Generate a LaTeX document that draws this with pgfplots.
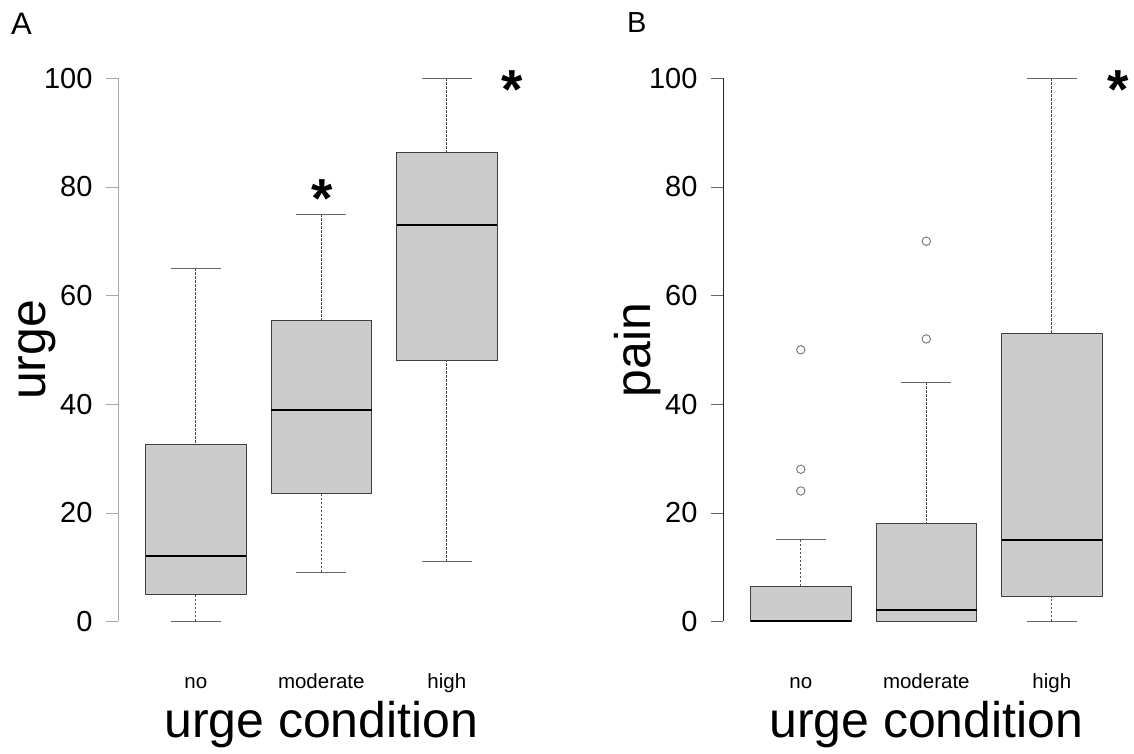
\documentclass[border=0pt]{standalone}
\usepackage{fontspec}
\setmainfont{Liberation Sans}
\usepackage{pgfplots}
\pgfplotsset{compat=1.18}
\usepgfplotslibrary{statistics}
\definecolor{boxgray}{HTML}{CCCCCC}

\tikzset{sigstar/.style={font=\fontsize{55}{55}\selectfont\bfseries, anchor=base, yshift=-26pt, inner sep=0pt}}

\pgfplotsset{
 rpanel/.style={
   anchor=south west,
   scale only axis, width=406.6pt, height=586.4pt,
   xmin=0.38, xmax=3.62, ymin=-4, ymax=104,
   axis line style={draw=none},
   clip=false,
   xtick={1,2,3}, xticklabels={no,moderate,high},
   xtick style={draw=none},
   xticklabel style={font=\fontsize{20.5}{21}\selectfont, anchor=base, yshift=-34pt},
   ytick={0,20,40,60,80,100}, ytick pos=left,
   tick align=outside, major tick length=12pt,
   yticklabel style={font=\fontsize{29}{30}\selectfont, anchor=east, xshift=-10pt},
   /pgf/number format/assume math mode=true,
   xlabel={urge condition},
   xlabel style={font=\fontsize{50}{50}\selectfont, at={(axis description cs:0.5,-0.1604)}, anchor=base},
   ylabel style={font=\fontsize{50}{50}\selectfont, at={(axis description cs:-0.178,0.5)}, anchor=base, rotate=0},
 },
 rbox/.style={
   boxplot/draw direction=y,
   boxplot/box extend=0.8,
   boxplot/whisker extend=0.4,
   boxplot/every box/.style={draw=black!75, fill=boxgray, line width=0.9pt},
   boxplot/every median/.style={draw=black, line width=2pt},
   boxplot/draw/lower whisker/.code={%
     \draw[black!70, dash pattern=on 2.5pt off 1.5pt, line width=0.7pt]
       (boxplot cs:\pgfplotsboxplotvalue{lower whisker}) -- (boxplot cs:\pgfplotsboxplotvalue{lower quartile});
     \draw[black!60, line width=1pt]
       (boxplot whisker cs:\pgfplotsboxplotvalue{lower whisker},0) -- (boxplot whisker cs:\pgfplotsboxplotvalue{lower whisker},1);
   },
   boxplot/draw/upper whisker/.code={%
     \draw[black!70, dash pattern=on 2.5pt off 1.5pt, line width=0.7pt]
       (boxplot cs:\pgfplotsboxplotvalue{upper whisker}) -- (boxplot cs:\pgfplotsboxplotvalue{upper quartile});
     \draw[black!60, line width=1pt]
       (boxplot whisker cs:\pgfplotsboxplotvalue{upper whisker},0) -- (boxplot whisker cs:\pgfplotsboxplotvalue{upper whisker},1);
   },
   mark=o, mark size=4.2pt, mark options={draw=black!55, line width=0.9pt, fill=none},
 },
}

\begin{document}
\begin{tikzpicture}
\useasboundingbox (0,0) rectangle (1134pt,754pt);

% ---------------- Panel A ----------------
\begin{axis}[rpanel, at={(118pt,111pt)}, ylabel={urge},
  ytick style={draw=black!35}]
\draw[black!35, line width=1pt] (axis cs:0.38,0) -- (axis cs:0.38,100);
\addplot[rbox, boxplot prepared={draw position=1, lower whisker=0, lower quartile=5, median=12, upper quartile=32.5, upper whisker=65}] coordinates {};
\addplot[rbox, boxplot prepared={draw position=2, lower whisker=9, lower quartile=23.5, median=39, upper quartile=55.4, upper whisker=75}] coordinates {};
\addplot[rbox, boxplot prepared={draw position=3, lower whisker=11, lower quartile=48, median=73, upper quartile=86.3, upper whisker=100}] coordinates {};
\node[sigstar] at (axis cs:2.01,79.1) {*};
\node[sigstar] at (axis cs:3.52,99.3) {*};
\end{axis}

% ---------------- Panel B ----------------
\begin{axis}[rpanel, at={(723pt,111pt)}, ylabel={pain},
  ytick style={draw=black!60}]
\draw[black!85, line width=1pt] (axis cs:0.38,0) -- (axis cs:0.38,100);
\addplot[rbox, boxplot prepared={draw position=1, lower whisker=0, lower quartile=0, median=0, upper quartile=6.5, upper whisker=15}] coordinates {(0,24) (0,28) (0,50)};
\addplot[rbox, boxplot prepared={draw position=2, lower whisker=0, lower quartile=0, median=2, upper quartile=18, upper whisker=44}] coordinates {(0,52) (0,70)};
\addplot[rbox, boxplot prepared={draw position=3, lower whisker=0, lower quartile=4.5, median=15, upper quartile=53, upper whisker=100}] coordinates {};
\node[sigstar] at (axis cs:3.53,99.3) {*};
\end{axis}

\node[anchor=base west, inner sep=0pt, font=\fontsize{31}{31}\selectfont] at (11pt,719pt) {A};
\node[anchor=base west, inner sep=0pt, font=\fontsize{29}{29}\selectfont] at (627pt,721pt) {B};
\end{tikzpicture}
\end{document}
